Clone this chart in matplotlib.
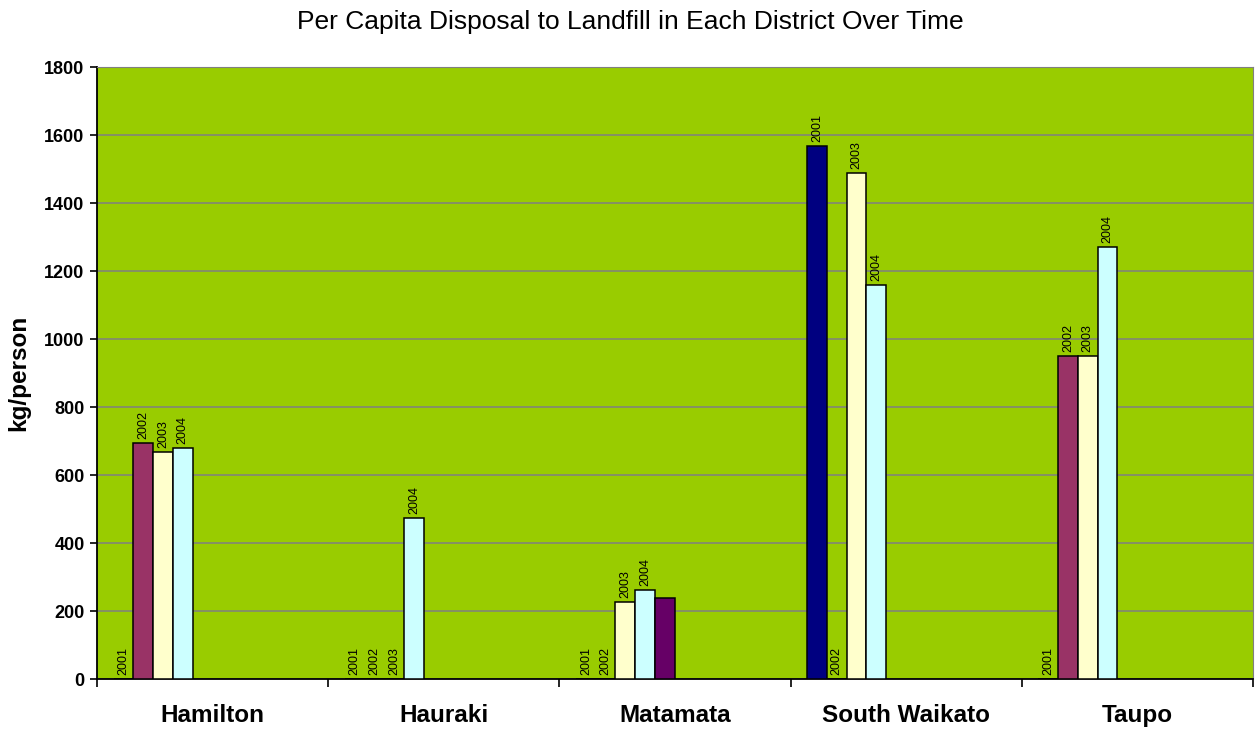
import matplotlib
matplotlib.use("Agg")
import matplotlib.pyplot as plt
import numpy as np

# ---- data ----
districts = ["Hamilton", "Hauraki", "Matamata", "South Waikato", "Taupo"]
series_names = ["2001", "2002", "2003", "2004", "Other"]
v2001 = [0, 0, 0, 1568, 0]
v2002 = [693, 0, 0, 0, 951]
v2003 = [667, 0, 226, 1489, 951]
v2004 = [679, 474, 262, 1158, 1271]
v_other = [None, None, 238, None, None]
show_label = [True, True, True, True, False]
y_ticks = [0, 200, 400, 600, 800, 1000, 1200, 1400, 1600, 1800]

series_values = [v2001, v2002, v2003, v2004, v_other]
colors = ["#000080", "#993366", "#FFFFCC", "#CCFFFF", "#660066"]

plt.rcParams['font.family'] = ['Liberation Sans', 'DejaVu Sans']

fig = plt.figure(figsize=(12.55, 7.31), dpi=100)
ax = fig.add_axes([0.0773, 0.0711, 0.9211, 0.8372])
ax.set_facecolor("#99CC00")

bar_w = 0.0853
group_off = 0.0719

for s, (vals, col, name) in enumerate(zip(series_values, colors, series_names)):
    for i, v in enumerate(vals):
        if v is None:
            continue
        left = i + group_off + s * bar_w
        ax.bar(left, v, width=bar_w, align='edge', color=col,
               edgecolor='black', linewidth=1.1, zorder=3)
        if show_label[s]:
            ax.annotate(name, (left + bar_w / 2, v), xytext=(0, 3),
                        textcoords='offset points', rotation=90,
                        ha='center', va='bottom', fontsize=9, zorder=4)

ax.set_xlim(0, 5)
ax.set_ylim(0, 1800)
ax.set_yticks(y_ticks)
ax.set_yticklabels([str(t) for t in y_ticks], fontsize=13, fontweight='bold')
ax.yaxis.grid(True, color='#808080', linewidth=1.1, zorder=1)
ax.set_axisbelow(True)

ax.set_xticks(np.arange(0, 6))
ax.set_xticklabels([])
ax.set_xticks(np.arange(5) + 0.5, minor=True)
ax.set_xticklabels(districts, minor=True, fontsize=17.5, fontweight='bold')
ax.tick_params(axis='x', which='minor', length=0, pad=18)
ax.tick_params(axis='x', which='major', length=6, width=1.2, direction='out')
ax.tick_params(axis='y', length=5, width=1.2, direction='out', pad=4)

ax.spines['left'].set_color('black')
ax.spines['bottom'].set_color('black')
ax.spines['left'].set_linewidth(1.3)
ax.spines['bottom'].set_linewidth(1.3)
ax.spines['top'].set_color('#808080')
ax.spines['right'].set_color('#808080')

ax.set_ylabel("kg/person", fontsize=17.5, fontweight='bold', labelpad=10)
fig.suptitle("Per Capita Disposal to Landfill in Each District Over Time",
             fontsize=19, x=0.502, y=0.987, va='top')

fig.savefig("out.png", dpi=100, facecolor='white')
